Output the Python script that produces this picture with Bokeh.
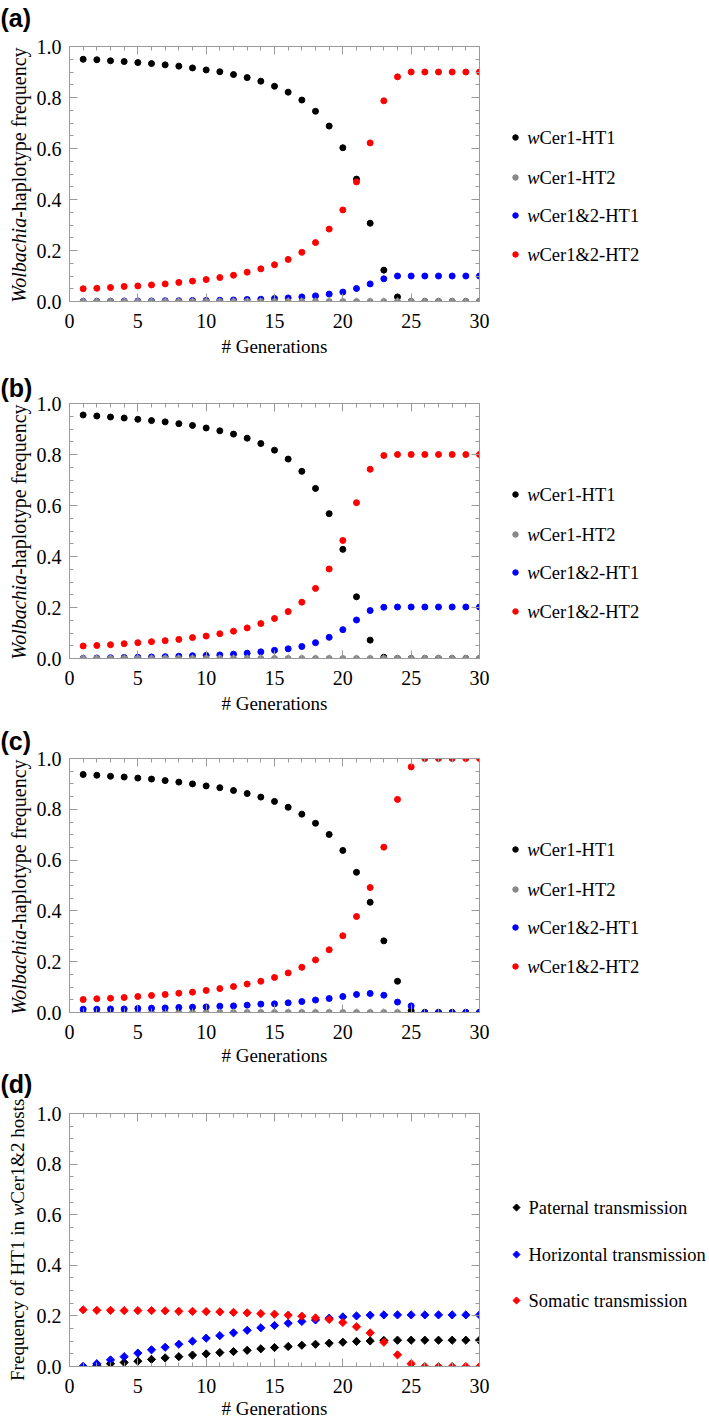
import numpy as np
from bokeh.plotting import figure
from bokeh.models import (Range1d, FixedTicker, LinearAxis,
                          PrintfTickFormatter, CustomJSTickFormatter)
from bokeh.layouts import row, column
from bokeh.embed import file_html
from bokeh.resources import INLINE
from bokeh.core.properties import value

# ---------------- data ----------------
generations = [1, 2, 3, 4, 5, 6, 7, 8, 9, 10, 11, 12, 13, 14, 15,
               16, 17, 18, 19, 20, 21, 22, 23, 24, 25, 26, 27, 28, 29, 30]

legend_names_abc = ["Cer1-HT1", "Cer1-HT2", "Cer1&2-HT1", "Cer1&2-HT2"]
legend_names_d = ["Paternal transmission", "Horizontal transmission", "Somatic transmission"]

# panel (a)
a_cer1_ht1 = [0.950, 0.948, 0.944, 0.941, 0.937, 0.933, 0.928, 0.923, 0.916, 0.908,
              0.901, 0.890, 0.878, 0.864, 0.844, 0.821, 0.790, 0.746, 0.688, 0.603,
              0.480, 0.307, 0.123, 0.018, 0.0, 0.0, 0.0, 0.0, 0.0, 0.0]
a_cer1_ht2 = [0.0, 0.0, 0.0, 0.0, 0.0, 0.0, 0.0, 0.0, 0.0, 0.0,
              0.0, 0.0, 0.0, 0.0, 0.0, 0.0, 0.0, 0.0, 0.0, 0.0,
              0.0, 0.0, 0.0, 0.0, 0.0, 0.0, 0.0, 0.0, 0.0, 0.0]
a_cer12_ht1 = [0.001, 0.001, 0.001, 0.002, 0.002, 0.002, 0.003, 0.003, 0.004, 0.004,
               0.005, 0.006, 0.008, 0.009, 0.012, 0.014, 0.018, 0.022, 0.029, 0.037,
               0.051, 0.069, 0.089, 0.100, 0.100, 0.100, 0.100, 0.100, 0.100, 0.100]
a_cer12_ht2 = [0.050, 0.052, 0.055, 0.059, 0.061, 0.065, 0.069, 0.075, 0.080, 0.086,
               0.094, 0.103, 0.115, 0.128, 0.144, 0.165, 0.193, 0.231, 0.284, 0.359,
               0.469, 0.622, 0.787, 0.881, 0.900, 0.900, 0.900, 0.900, 0.900, 0.900]

# panel (b)
b_cer1_ht1 = [0.955, 0.951, 0.947, 0.943, 0.938, 0.933, 0.928, 0.921, 0.914, 0.904,
              0.893, 0.880, 0.864, 0.843, 0.817, 0.782, 0.734, 0.667, 0.568, 0.428,
              0.242, 0.072, 0.005, 0.0, 0.0, 0.0, 0.0, 0.0, 0.0, 0.0]
b_cer1_ht2 = [0.0, 0.0, 0.0, 0.0, 0.0, 0.0, 0.0, 0.0, 0.0, 0.0,
              0.0, 0.0, 0.0, 0.0, 0.0, 0.0, 0.0, 0.0, 0.0, 0.0,
              0.0, 0.0, 0.0, 0.0, 0.0, 0.0, 0.0, 0.0, 0.0, 0.0]
b_cer12_ht1 = [0.001, 0.002, 0.003, 0.004, 0.005, 0.006, 0.007, 0.009, 0.011, 0.012,
               0.014, 0.017, 0.021, 0.026, 0.032, 0.038, 0.047, 0.062, 0.083, 0.113,
               0.151, 0.188, 0.201, 0.202, 0.202, 0.202, 0.202, 0.202, 0.202, 0.202]
b_cer12_ht2 = [0.049, 0.051, 0.054, 0.058, 0.062, 0.066, 0.070, 0.075, 0.082, 0.088,
               0.097, 0.107, 0.120, 0.137, 0.157, 0.184, 0.221, 0.275, 0.351, 0.463,
               0.611, 0.742, 0.796, 0.800, 0.800, 0.800, 0.800, 0.800, 0.800, 0.800]

# panel (c)
c_cer1_ht1 = [0.937, 0.934, 0.930, 0.927, 0.923, 0.919, 0.913, 0.907, 0.900, 0.892,
              0.885, 0.874, 0.862, 0.848, 0.831, 0.808, 0.781, 0.745, 0.701, 0.638,
              0.552, 0.434, 0.282, 0.123, 0.007, 0.0, 0.0, 0.0, 0.0, 0.0]
c_cer1_ht2 = [0.0, 0.0, 0.0, 0.0, 0.0, 0.0, 0.0, 0.0, 0.0, 0.0,
              0.0, 0.0, 0.0, 0.0, 0.0, 0.0, 0.0, 0.0, 0.0, 0.0,
              0.0, 0.0, 0.0, 0.0, 0.0, 0.0, 0.0, 0.0, 0.0, 0.0]
c_cer12_ht1 = [0.013, 0.013, 0.014, 0.014, 0.016, 0.017, 0.018, 0.020, 0.021, 0.022,
               0.025, 0.026, 0.029, 0.033, 0.034, 0.038, 0.043, 0.049, 0.055, 0.063,
               0.071, 0.075, 0.068, 0.041, 0.026, 0.0, 0.0, 0.0, 0.0, 0.0]
c_cer12_ht2 = [0.051, 0.054, 0.056, 0.059, 0.063, 0.067, 0.071, 0.076, 0.080, 0.087,
               0.094, 0.102, 0.112, 0.123, 0.138, 0.156, 0.178, 0.207, 0.247, 0.302,
               0.378, 0.492, 0.651, 0.839, 0.967, 1.0, 1.0, 1.0, 1.0, 1.0]

# panel (d)
d_paternal = [0.0, 0.005, 0.011, 0.016, 0.021, 0.028, 0.034, 0.039, 0.045, 0.050,
              0.055, 0.059, 0.064, 0.070, 0.075, 0.079, 0.084, 0.088, 0.092, 0.096,
              0.099, 0.101, 0.103, 0.104, 0.104, 0.104, 0.104, 0.104, 0.104, 0.104]
d_horizontal = [0.0, 0.011, 0.026, 0.039, 0.053, 0.066, 0.076, 0.088, 0.100, 0.112,
                0.122, 0.133, 0.143, 0.153, 0.162, 0.171, 0.178, 0.184, 0.191, 0.196,
                0.200, 0.203, 0.204, 0.204, 0.204, 0.204, 0.204, 0.204, 0.204, 0.204]
d_somatic = [0.224, 0.222, 0.222, 0.221, 0.221, 0.221, 0.220, 0.218, 0.218, 0.217,
             0.216, 0.214, 0.212, 0.209, 0.207, 0.203, 0.199, 0.192, 0.186, 0.174,
             0.157, 0.133, 0.096, 0.046, 0.011, 0.0, 0.0, 0.0, 0.0, 0.0]

x_ticks = [0, 5, 10, 15, 20, 25, 30]
y_ticks = [0.0, 0.2, 0.4, 0.6, 0.8, 1.0]

BLACK, GRAY, BLUE, RED = "#000000", "#888888", "#0000ff", "#ff0000"
FRAME_COL = "#9a9a9a"
SERIF = "Liberation Serif"

# ---------------- layout constants ----------------
PAGE_W = 709
STRIP_W = 33          # left strip: panel tag + y-axis title
AX_L = 33             # main figure's left border (tick labels)
FRAME_W = 413
AX_R = 10
MAIN_W = AX_L + FRAME_W + AX_R
LEG_W = PAGE_W - STRIP_W - MAIN_W


def style_axis(ax, show_labels, fmt=None):
    ax.axis_line_color = FRAME_COL
    ax.major_tick_line_color = FRAME_COL
    ax.minor_tick_line_color = FRAME_COL
    ax.major_tick_in = 8
    ax.major_tick_out = 0
    ax.minor_tick_in = 4
    ax.minor_tick_out = 0
    if show_labels:
        ax.major_label_text_font = SERIF
        ax.major_label_text_font_size = "20px"
        ax.major_label_text_color = "black"
        ax.major_label_standoff = 8
        if fmt is not None:
            ax.formatter = fmt
    else:
        ax.formatter = CustomJSTickFormatter(code="return ''")
        ax.major_label_text_font_size = "1px"
        ax.major_label_standoff = 0


def blank_fig(w, h, xr, yr):
    f = figure(width=w, height=h, x_range=xr, y_range=yr, output_backend="svg",
               toolbar_location=None, min_border=0, frame_align=False,
               x_axis_location=None, y_axis_location=None)
    f.grid.visible = False
    f.outline_line_color = None
    return f


def legend_colors_for(tag):
    if tag == "(d)":
        return [BLACK, BLUE, RED]
    return [BLACK, GRAY, BLUE, RED]


def make_panel(tag, tag_above, top, frame_h, bottom, series, legend_names,
               marker, legend_offsets, ylabel_kind, legend_x, xlabel_standoff):
    row_h = top + frame_h + bottom

    # ---- main plot ----
    p = figure(width=MAIN_W, height=row_h, x_range=Range1d(0, 30), y_range=Range1d(0, 1),
               output_backend="svg", toolbar_location=None, frame_align=False,
               min_border_left=AX_L, min_border_right=AX_R,
               min_border_top=top, min_border_bottom=bottom)
    p.grid.visible = False
    p.outline_line_color = FRAME_COL

    p.xaxis.ticker = FixedTicker(ticks=x_ticks, minor_ticks=list(range(0, 31)))
    p.yaxis.ticker = FixedTicker(ticks=y_ticks, minor_ticks=[round(i * 0.05, 2) for i in range(21)])
    style_axis(p.xaxis[0], True)
    p.xaxis[0].major_label_standoff = 12
    style_axis(p.yaxis[0], True, PrintfTickFormatter(format="%.1f"))
    p.xaxis[0].axis_label = "# Generations"
    p.xaxis[0].axis_label_text_font = SERIF
    p.xaxis[0].axis_label_text_font_size = "19px"
    p.xaxis[0].axis_label_text_font_style = "normal"
    p.xaxis[0].axis_label_text_color = "black"
    p.xaxis[0].axis_label_standoff = xlabel_standoff

    top_ax = LinearAxis(ticker=FixedTicker(ticks=x_ticks, minor_ticks=list(range(0, 31))))
    right_ax = LinearAxis(ticker=FixedTicker(ticks=y_ticks,
                                             minor_ticks=[round(i * 0.05, 2) for i in range(21)]))
    style_axis(top_ax, False)
    style_axis(right_ax, False)
    p.add_layout(top_ax, "above")
    p.add_layout(right_ax, "right")

    for vals, col in series:
        if marker == "circle":
            p.scatter(generations, vals, marker="circle", size=6, color=col)
        else:
            p.scatter(generations, vals, marker="square", angle=np.pi / 4, size=5.8, color=col)

    # ---- left strip: panel tag + y-axis title (same vertical scale as the plot) ----
    lf = blank_fig(STRIP_W, row_h, Range1d(0, STRIP_W),
                   Range1d(-bottom / frame_h, 1 + top / frame_h))
    lf.text([0], [1 + tag_above / frame_h], text=[tag], text_font=value("Liberation Sans"),
            text_font_style="bold", text_font_size=value("25px"),
            text_align="left", text_baseline="middle", text_color="black")
    if ylabel_kind == "wolbachia":
        j = 0.328
        lf.text([18], [j], text=["Wolbachia"], angle=np.pi / 2,
                text_font=value(SERIF), text_font_style="italic", text_font_size=value("20px"),
                text_align="right", text_baseline="alphabetic", text_color="black")
        lf.text([18], [j], text=["-haplotype frequency"], angle=np.pi / 2,
                text_font=value(SERIF), text_font_size=value("20px"),
                text_align="left", text_baseline="alphabetic", text_color="black")
    else:
        wc = 0.62
        half = 6.3 / frame_h
        sp = 4.75 / frame_h
        lf.text([17], [wc - half - sp], text=["Frequency of HT1 in"], angle=np.pi / 2,
                text_font=value(SERIF), text_font_size=value("19px"),
                text_align="right", text_baseline="alphabetic", text_color="black")
        lf.text([17], [wc], text=["w"], angle=np.pi / 2,
                text_font=value(SERIF), text_font_style="italic", text_font_size=value("19px"),
                text_align="center", text_baseline="alphabetic", text_color="black")
        lf.text([17], [wc + half], text=["Cer1&2 hosts"], angle=np.pi / 2,
                text_font=value(SERIF), text_font_size=value("19px"),
                text_align="left", text_baseline="alphabetic", text_color="black")

    # ---- legend ----
    lg = blank_fig(LEG_W, row_h, Range1d(0, LEG_W), Range1d(row_h, 0))
    mx, tx = legend_x
    ys = [top + o for o in legend_offsets]
    cols = legend_colors_for(tag)
    if marker == "circle":
        lg.scatter([mx] * len(ys), ys, marker="circle", size=5.5, color=cols)
        lg.text([tx] * len(ys), ys, text=["w"] * len(ys), text_font=value(SERIF),
                text_font_size=value("18.5px"), text_font_style="italic",
                text_align="right", text_baseline="middle", text_color="black")
        lg.text([tx] * len(ys), ys, text=legend_names, text_font=value(SERIF),
                text_font_size=value("18.5px"), text_align="left",
                text_baseline="middle", text_color="black")
    else:
        lg.scatter([mx] * len(ys), ys, marker="square", angle=np.pi / 4, size=5,
                   color=cols)
        lg.text([tx] * len(ys), ys, text=legend_names, text_font=value(SERIF),
                text_font_size=value("18.5px"), text_align="left",
                text_baseline="middle", text_color="black")

    return row(lf, p, lg)


offs_abc = [91, 131, 169, 208]
offs_d = [94, 141, 187]

pa = make_panel("(a)", 28.5, 46, 255, 59,
                [(a_cer1_ht1, BLACK), (a_cer12_ht1, BLUE), (a_cer1_ht2, GRAY), (a_cer12_ht2, RED)],
                legend_names_abc, "circle", offs_abc, "wolbachia", (26, 50), 5)
pb = make_panel("(b)", 16, 43, 255, 60,
                [(b_cer1_ht1, BLACK), (b_cer12_ht1, BLUE), (b_cer1_ht2, GRAY), (b_cer12_ht2, RED)],
                legend_names_abc, "circle", offs_abc, "wolbachia", (26, 50), 5)
pc = make_panel("(c)", 18, 40, 255, 55,
                [(c_cer1_ht2, GRAY), (c_cer1_ht1, BLACK), (c_cer12_ht1, BLUE), (c_cer12_ht2, RED)],
                legend_names_abc, "circle", offs_abc, "wolbachia", (26, 50), 3)
pd = make_panel("(d)", 30, 45, 254, 54,
                [(d_paternal, BLACK), (d_horizontal, BLUE), (d_somatic, RED)],
                legend_names_d, "diamond", offs_d, "frequency", (27, 39), 2)

layout = column(pa, pb, pc, pd)

open("out.html", "w").write(file_html(layout, INLINE))
